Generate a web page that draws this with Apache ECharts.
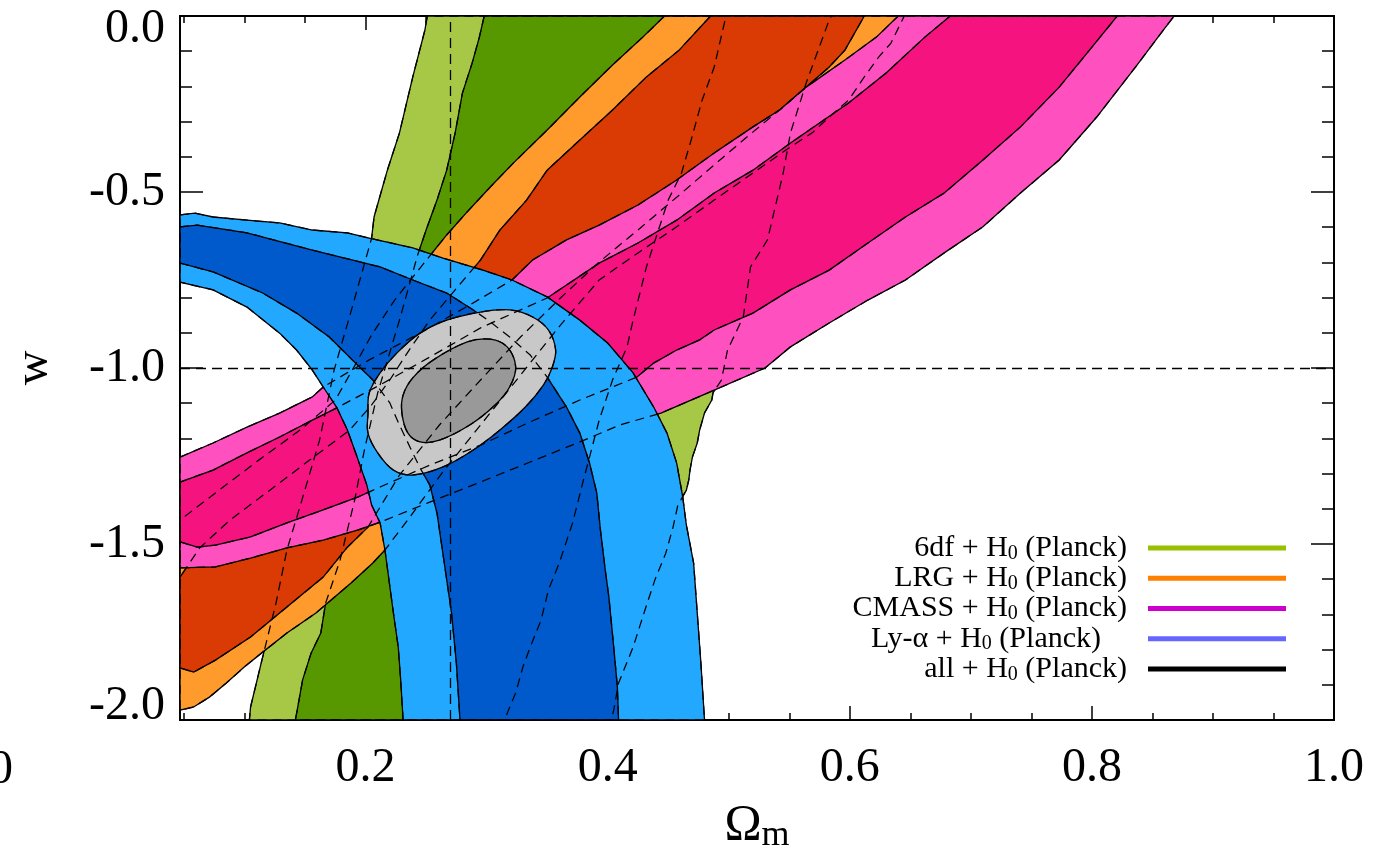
<!DOCTYPE html>
<html>
<head>
<meta charset="utf-8">
<title>Ωm – w constraints</title>
<script src="https://cdn.jsdelivr.net/npm/echarts@6/dist/echarts.min.js"></script>
<style>
  html, body { margin: 0; padding: 0; background: #ffffff; }
  #chart { width: 1381px; height: 857px; }
</style>
</head>
<body>
<div id="chart"></div>
<script>
const FONT = "'Liberation Serif', 'Times New Roman', serif";

// Axis ranges, ticks and labels
const omegaRange = [0.0467, 1.0];
const wRange = [-2.0, 0.0];
const xMinorTicks = [0.05, 0.10, 0.15, 0.25, 0.30, 0.35, 0.45, 0.50, 0.55, 0.65, 0.70, 0.75, 0.85, 0.90, 0.95];
const xMajorTicks = [0.2, 0.4, 0.6, 0.8, 1.0];
const yMinorTicks = [-0.1, -0.2, -0.3, -0.4, -0.6, -0.7, -0.8, -0.9, -1.1, -1.2, -1.3, -1.4, -1.6, -1.7, -1.8, -1.9];
const yMajorTicks = [0.0, -0.5, -1.0, -1.5, -2.0];

// Fiducial model
const refOmega = 0.274;
const refW = -1.0;

// Confidence contours as [Omega_m, w] outlines (outer = 95%, inner = 68%)
const sixdfOuter = [
  [0.251, 0], [0.249, -0.040], [0.239, -0.173], [0.228, -0.332], [0.218, -0.438], [0.207, -0.571], [0.205, -0.631],
  [0.189, -0.827], [0.174, -1.006], [0.162, -1.205], [0.145, -1.403], [0.135, -1.517], [0.126, -1.668], [0.114, -1.835],
  [0.105, -1.963], [0.104, -2.0],
  [0.403, -2.0], [0.405, -1.972], [0.409, -1.895], [0.421, -1.793], [0.430, -1.696], [0.439, -1.602], [0.448, -1.526],
  [0.454, -1.452], [0.458, -1.389], [0.465, -1.347], [0.467, -1.318], [0.468, -1.290], [0.470, -1.253], [0.474, -1.213],
  [0.476, -1.176], [0.480, -1.128], [0.486, -1.091], [0.487, -1.071], [0.494, -1.034], [0.499, -0.949], [0.512, -0.855],
  [0.518, -0.713], [0.532, -0.636], [0.545, -0.446], [0.551, -0.332], [0.564, -0.190], [0.583, -0.011], [0.585, 0]
];
const sixdfInner = [
  [0.298, 0], [0.294, -0.060], [0.288, -0.134], [0.280, -0.219], [0.274, -0.332], [0.267, -0.438], [0.259, -0.523],
  [0.250, -0.608], [0.243, -0.679], [0.228, -0.864], [0.210, -1.071], [0.199, -1.233], [0.191, -1.375], [0.179, -1.545],
  [0.167, -1.668], [0.163, -1.753], [0.155, -1.810], [0.148, -1.886], [0.144, -1.963], [0.142, -2.0],
  [0.315, -2.0], [0.318, -1.972], [0.324, -1.923], [0.330, -1.849], [0.336, -1.793], [0.345, -1.716], [0.351, -1.631],
  [0.360, -1.554], [0.371, -1.440], [0.380, -1.318], [0.385, -1.253], [0.393, -1.148], [0.404, -1.034], [0.416, -0.940],
  [0.421, -0.864], [0.432, -0.713], [0.450, -0.523], [0.461, -0.446], [0.469, -0.352], [0.478, -0.239], [0.488, -0.145],
  [0.497, -0.011], [0.498, 0]
];
const lrgOuter = [
  [0.447, 0], [0.429, -0.060], [0.404, -0.139], [0.377, -0.230], [0.350, -0.324], [0.322, -0.418], [0.303, -0.486],
  [0.283, -0.560], [0.267, -0.622], [0.245, -0.716], [0.224, -0.807], [0.205, -0.906], [0.189, -1.006], [0.175, -1.091],
  [0.146, -1.176], [0.112, -1.261], [0.079, -1.347], [0.0467, -1.432],
  [0.0467, -1.972], [0.058, -1.963], [0.071, -1.935], [0.085, -1.895], [0.100, -1.849], [0.114, -1.810], [0.135, -1.753],
  [0.159, -1.696], [0.188, -1.611], [0.206, -1.554], [0.216, -1.517], [0.236, -1.426], [0.265, -1.290], [0.295, -1.162],
  [0.328, -1.020], [0.361, -0.878], [0.393, -0.750], [0.425, -0.673], [0.457, -0.599], [0.488, -0.523], [0.520, -0.446],
  [0.551, -0.372], [0.569, -0.332], [0.583, -0.287], [0.599, -0.239], [0.612, -0.173], [0.624, -0.116], [0.634, -0.077],
  [0.645, 0]
];
const lrgInner = [
  [0.485, 0], [0.459, -0.097], [0.432, -0.173], [0.404, -0.267], [0.377, -0.352], [0.350, -0.438], [0.333, -0.523],
  [0.311, -0.608], [0.295, -0.693], [0.274, -0.778], [0.253, -0.864], [0.236, -0.949], [0.220, -1.034], [0.205, -1.105],
  [0.187, -1.176], [0.154, -1.261], [0.121, -1.347], [0.088, -1.432], [0.063, -1.511], [0.0467, -1.594],
  [0.0467, -1.852], [0.058, -1.864], [0.076, -1.830], [0.105, -1.764], [0.135, -1.679], [0.165, -1.594], [0.185, -1.509],
  [0.202, -1.452], [0.228, -1.304], [0.261, -1.162], [0.295, -1.034], [0.328, -0.912], [0.361, -0.801], [0.393, -0.699],
  [0.427, -0.602], [0.459, -0.509], [0.488, -0.423], [0.517, -0.338], [0.542, -0.267], [0.564, -0.202], [0.583, -0.145],
  [0.596, -0.097], [0.612, 0]
];
const cmassOuter = [
  [0.0467, -1.253], [0.074, -1.213], [0.102, -1.168], [0.129, -1.128], [0.156, -1.082], [0.165, -1.054], [0.203, -0.977],
  [0.245, -0.901], [0.286, -0.821], [0.321, -0.750], [0.338, -0.693], [0.366, -0.636], [0.393, -0.594], [0.425, -0.537],
  [0.457, -0.466], [0.488, -0.389], [0.520, -0.315], [0.542, -0.267], [0.564, -0.202], [0.596, -0.125], [0.622, -0.060],
  [0.640, 0],
  [0.868, 0], [0.859, -0.040], [0.836, -0.145], [0.804, -0.287], [0.773, -0.409], [0.741, -0.503], [0.710, -0.599],
  [0.678, -0.673], [0.646, -0.750], [0.615, -0.807], [0.583, -0.872], [0.551, -0.940], [0.530, -1.000], [0.488, -1.063],
  [0.444, -1.128], [0.410, -1.162], [0.377, -1.210], [0.336, -1.267], [0.295, -1.324], [0.253, -1.381], [0.212, -1.438],
  [0.194, -1.460], [0.165, -1.489], [0.135, -1.511], [0.105, -1.540], [0.076, -1.565], [0.0467, -1.568]
];
const cmassInner = [
  [0.0467, -1.324], [0.074, -1.290], [0.102, -1.241], [0.129, -1.196], [0.156, -1.148], [0.173, -1.119], [0.212, -1.048],
  [0.253, -0.969], [0.295, -0.886], [0.328, -0.835], [0.350, -0.801], [0.393, -0.702], [0.425, -0.645], [0.457, -0.580],
  [0.488, -0.503], [0.520, -0.438], [0.551, -0.361], [0.599, -0.247], [0.630, -0.162], [0.662, -0.060], [0.683, 0],
  [0.821, 0], [0.798, -0.097], [0.773, -0.202], [0.741, -0.315], [0.710, -0.409], [0.678, -0.503], [0.646, -0.571],
  [0.615, -0.645], [0.583, -0.722], [0.551, -0.778], [0.520, -0.844], [0.488, -0.892], [0.476, -0.920], [0.457, -0.949],
  [0.438, -0.986], [0.424, -1.026], [0.377, -1.091], [0.336, -1.153], [0.295, -1.219], [0.253, -1.276], [0.212, -1.338],
  [0.194, -1.366], [0.165, -1.403], [0.135, -1.440], [0.105, -1.480], [0.076, -1.503], [0.061, -1.509], [0.0467, -1.494]
];
const lyaOuter = [
  [0.0467, -0.565], [0.059, -0.560], [0.074, -0.571], [0.102, -0.580], [0.129, -0.588], [0.156, -0.608], [0.185, -0.616],
  [0.203, -0.631], [0.239, -0.659], [0.264, -0.688], [0.297, -0.722], [0.321, -0.750], [0.350, -0.798], [0.377, -0.864],
  [0.400, -0.929], [0.421, -1.014], [0.438, -1.111], [0.449, -1.185], [0.457, -1.270], [0.462, -1.366], [0.465, -1.446],
  [0.471, -1.554], [0.474, -1.696], [0.477, -1.838], [0.480, -2.0],
  [0.231, -2.0], [0.229, -1.886], [0.227, -1.793], [0.223, -1.696], [0.216, -1.517], [0.212, -1.440], [0.205, -1.389],
  [0.201, -1.332], [0.193, -1.253], [0.185, -1.176], [0.176, -1.111], [0.165, -1.054], [0.156, -1.006], [0.143, -0.949],
  [0.129, -0.901], [0.102, -0.827], [0.074, -0.778], [0.0467, -0.756]
];
const lyaInner = [
  [0.0467, -0.599], [0.061, -0.594], [0.102, -0.616], [0.156, -0.665], [0.212, -0.713], [0.239, -0.750], [0.267, -0.787],
  [0.289, -0.835], [0.303, -0.869], [0.319, -0.912], [0.336, -0.963], [0.350, -1.026], [0.366, -1.111], [0.377, -1.185],
  [0.385, -1.270], [0.391, -1.355], [0.394, -1.460], [0.398, -1.574], [0.401, -1.651], [0.405, -1.793], [0.408, -1.906],
  [0.409, -2.0],
  [0.278, -2.0], [0.275, -1.838], [0.271, -1.696], [0.265, -1.554], [0.259, -1.412], [0.253, -1.332], [0.245, -1.284],
  [0.237, -1.227], [0.228, -1.162], [0.220, -1.099], [0.206, -1.034], [0.189, -0.977], [0.170, -0.912], [0.143, -0.844],
  [0.115, -0.787], [0.074, -0.727], [0.0467, -0.702]
];
const allOuter = [
  [0.202, -1.128], [0.203, -1.071], [0.212, -1.014], [0.226, -0.957], [0.245, -0.901], [0.267, -0.864], [0.295, -0.841],
  [0.319, -0.835], [0.338, -0.855], [0.351, -0.892], [0.357, -0.949], [0.354, -1.000], [0.347, -1.048], [0.332, -1.111],
  [0.311, -1.176], [0.289, -1.233], [0.264, -1.281], [0.239, -1.304], [0.223, -1.290], [0.210, -1.241], [0.202, -1.185]
];
const allInner = [
  [0.230, -1.128], [0.231, -1.077], [0.239, -1.028], [0.256, -0.977], [0.284, -0.926], [0.303, -0.918], [0.317, -0.940],
  [0.324, -0.997], [0.319, -1.054], [0.307, -1.105], [0.286, -1.162], [0.261, -1.205], [0.245, -1.210], [0.235, -1.185]
];

// Probes, in drawing order (later ones cover earlier ones)
const probes = [
  { name: '6df',   legendColor: '#99C000', fills: ['#A7C846', '#579800'], contours: [sixdfOuter, sixdfInner], smooth: 0 },
  { name: 'LRG',   legendColor: '#FF8000', fills: ['#FF9A2C', '#DA3A03'], contours: [lrgOuter, lrgInner], smooth: 0 },
  { name: 'CMASS', legendColor: '#CC00CC', fills: ['#FF50BF', '#F51380'], contours: [cmassOuter, cmassInner], smooth: 0 },
  { name: 'Ly-α',  legendColor: '#6666FF', fills: ['#22A8FF', '#005ACC'], contours: [lyaOuter, lyaInner], smooth: 0 },
  { name: 'all',   legendColor: '#000000', fills: ['#C8C8C8', '#999999'], contours: [allOuter, allInner], smooth: 0.35 }
];

// Every outline, redrawn dashed on top so hidden edges stay visible
const outlineList = [];
probes.forEach(p => p.contours.forEach(c => outlineList.push({ pts: c, smooth: p.smooth })));

function filledSeries(p) {
  return {
    type: 'custom',
    name: p.name,
    coordinateSystem: 'cartesian2d',
    xAxisIndex: 0,
    yAxisIndex: 0,
    z: 2,
    silent: true,
    itemStyle: { color: p.legendColor },
    data: p.contours.map(c => c[0]),
    renderItem: (params, api) => ({
      type: 'polygon',
      shape: { points: p.contours[params.dataIndex].map(pt => api.coord(pt)), smooth: p.smooth },
      style: { fill: p.fills[params.dataIndex], stroke: '#000000', lineWidth: 1.3 }
    })
  };
}

const outlineSeries = {
  type: 'custom',
  name: 'outlines',
  coordinateSystem: 'cartesian2d',
  xAxisIndex: 0,
  yAxisIndex: 0,
  z: 5,
  silent: true,
  data: outlineList.map(o => o.pts[0]),
  renderItem: (params, api) => ({
    type: 'polygon',
    shape: { points: outlineList[params.dataIndex].pts.map(pt => api.coord(pt)), smooth: outlineList[params.dataIndex].smooth },
    style: { fill: 'none', stroke: '#000000', lineWidth: 1.25, lineDash: [9, 6] }
  })
};

const fiducialSeries = {
  type: 'line',
  name: 'fiducial',
  xAxisIndex: 0,
  yAxisIndex: 0,
  data: [],
  z: 6,
  silent: true,
  markLine: {
    silent: true,
    symbol: ['none', 'none'],
    label: { show: false },
    lineStyle: { color: '#000000', width: 1.3, type: [10, 6] },
    data: [{ xAxis: refOmega }, { yAxis: refW }]
  }
};

function xAxisDef(position, ticks, len, withLabels) {
  const ax = {
    type: 'value',
    gridIndex: 0,
    position: position,
    min: omegaRange[0],
    max: omegaRange[1],
    axisLine: { show: true, onZero: false, lineStyle: { color: '#000000', width: 2 } },
    axisTick: { show: true, inside: true, length: len, customValues: ticks, lineStyle: { color: '#000000', width: 1.5 } },
    axisLabel: { show: false },
    splitLine: { show: false }
  };
  if (withLabels) {
    ax.axisLabel = {
      show: true,
      customValues: xMajorTicks,
      formatter: v => v.toFixed(1),
      fontSize: 48,
      fontFamily: FONT,
      color: '#000000',
      margin: 24
    };
    ax.name = '{o|Ω}{m|m}';
    ax.nameLocation = 'middle';
    ax.nameGap = 78;
    ax.nameTextStyle = {
      color: '#000000',
      rich: {
        o: { fontSize: 50, fontFamily: FONT, color: '#000000', lineHeight: 56 },
        m: { fontSize: 36, fontFamily: FONT, color: '#000000', lineHeight: 20, verticalAlign: 'bottom' }
      }
    };
  }
  return ax;
}

function yAxisDef(position, ticks, len, withLabels) {
  const ax = {
    type: 'value',
    gridIndex: 0,
    position: position,
    min: wRange[0],
    max: wRange[1],
    axisLine: { show: true, onZero: false, lineStyle: { color: '#000000', width: 2 } },
    axisTick: { show: true, inside: true, length: len, customValues: ticks, lineStyle: { color: '#000000', width: 1.5 } },
    axisLabel: { show: false },
    splitLine: { show: false }
  };
  if (withLabels) {
    ax.axisLabel = {
      show: true,
      customValues: yMajorTicks,
      margin: 15,
      formatter: v => {
        const t = v.toFixed(1);
        if (v === wRange[1]) return '{top|' + t + '}';
        if (v === wRange[0]) return '{bot|' + t + '}';
        return '{n|' + t + '}';
      },
      rich: {
        n: { fontSize: 48, fontFamily: FONT, color: '#000000' },
        top: { fontSize: 48, fontFamily: FONT, color: '#000000', padding: [26, 0, 0, 0] },
        bot: { fontSize: 48, fontFamily: FONT, color: '#000000', padding: [0, 0, 28, 0] }
      }
    };
    ax.name = 'w';
    ax.nameLocation = 'middle';
    ax.nameGap = 122;
    ax.nameRotate = 90;
    ax.nameTextStyle = { fontSize: 48, fontFamily: FONT, color: '#000000' };
  }
  return ax;
}

const chart = echarts.init(document.getElementById('chart'), null, { renderer: 'canvas' });

chart.setOption({
  animation: false,
  backgroundColor: '#ffffff',
  grid: { left: 180, right: 47, top: 16, bottom: 137, containLabel: false, outerBoundsMode: 'none' },
  xAxis: [
    xAxisDef('bottom', xMinorTicks, 7, false),
    xAxisDef('bottom', xMajorTicks, 14, true),
    xAxisDef('top', xMinorTicks, 7, false),
    xAxisDef('top', xMajorTicks, 14, false)
  ],
  yAxis: [
    yAxisDef('left', yMinorTicks, 12, false),
    yAxisDef('left', yMajorTicks, 23, true),
    yAxisDef('right', yMinorTicks, 12, false),
    yAxisDef('right', yMajorTicks, 23, false)
  ],
  legend: {
    orient: 'vertical',
    align: 'right',
    right: 95,
    top: 533,
    padding: 0,
    itemWidth: 138,
    itemHeight: 5,
    itemGap: 0,
    icon: 'rect',
    selectedMode: false,
    data: probes.map(p => ({ name: p.name, itemStyle: { color: p.legendColor, borderWidth: 0 } })),
    formatter: name => name === 'Ly-α'
      ? '{t|' + name + ' + H}{s|0}{w| (Planck)}'
      : '{t|' + name + ' + H}{s|0}{t| (Planck)}',
    textStyle: {
      color: '#000000',
      fontFamily: FONT,
      fontSize: 30,
      padding: [0, 16, 0, 0],
      rich: {
        t: { fontSize: 30, fontFamily: FONT, color: '#000000', lineHeight: 30.5 },
        w: { fontSize: 30, fontFamily: FONT, color: '#000000', lineHeight: 30.5, padding: [0, 26, 0, 0] },
        s: { fontSize: 20, fontFamily: FONT, color: '#000000', lineHeight: 14, verticalAlign: 'bottom' }
      }
    }
  },
  graphic: [
    {
      type: 'text',
      x: 13,
      y: 770,
      silent: true,
      style: { text: '0', fontSize: 48, fontFamily: FONT, fill: '#000000', align: 'right', verticalAlign: 'middle' }
    }
  ],
  series: probes.map(filledSeries).concat([outlineSeries, fiducialSeries])
});
</script>
</body>
</html>
